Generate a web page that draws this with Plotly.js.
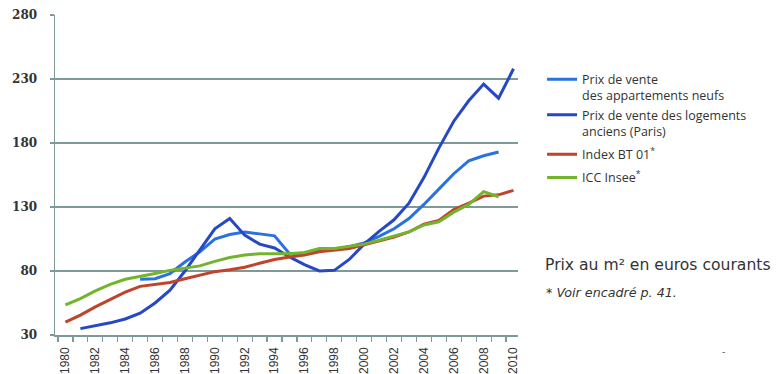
<!DOCTYPE html>
<html>
<head>
<meta charset="utf-8">
<script src="https://cdn.plot.ly/plotly-3.0.1.min.js"></script>
<style>html,body{margin:0;padding:0;background:#fff;}#chart{width:780px;height:374px;}</style>
</head>
<body>
<div id="chart"></div>
<script>
const years = [1980,1981,1982,1983,1984,1985,1986,1987,1988,1989,1990,1991,1992,1993,1994,1995,1996,1997,1998,1999,2000,2001,2002,2003,2004,2005,2006,2007,2008,2009,2010];

const neufs = [null,null,null,null,null,73.5,74,78,87,95,105,108.5,110.5,109,107.5,93.5,93.5,96,97,99,102,107,113,121,132,144,156,166,170,173,null];
const parisAnciens = [null,35,37,39.5,42.5,47,55,65,80,96,113,121,108,101,98,91,85,80,80.5,89,101,111,120,133,153,176,197,213,226,215,238];
const indexBT01 = [40,45.5,52,58,63.5,68,69.5,71,74,77,79.5,81,83,86,89,91,92.5,95,96,97.5,100.5,103.5,106.5,110.5,116.5,119.5,128,133,138.5,139.5,143];
const iccInsee = [53.5,58.5,64.5,69.5,73.5,75.5,78,80.5,82,84,87.5,90.5,92.5,93.5,93.5,93.5,94.5,97.5,97.5,99,101,104,107,110.5,116,118.5,126,132,142,138,null];

const seriesNames = ["Prix de vente<br>des appartements neufs", "Prix de vente des logements<br>anciens (Paris)", "Index BT 01<sup>*</sup>", "ICC Insee<sup>*</sup>"];
const legendGroups = ['prix', 'prix', 'bt', 'icc'];
const yTicks = [30,80,130,180,230,280];
const xTickVals = years.filter(y => y % 2 === 0);
const xTickText = xTickVals.map(String);

const gridCol = '#7f9999';
const colors = ['#2a72df', '#2748c4', '#c0432b', '#72b52d'];
const seriesData = [neufs, parisAnciens, indexBT01, iccInsee];

const traces = seriesData.map((d, i) => ({
  x: years, y: d, type: 'scatter', mode: 'lines', name: seriesNames[i],
  legendgroup: legendGroups[i],
  line: {color: colors[i], width: 3}, connectgaps: false, hoverinfo: 'skip'
}));

const layout = {
  width: 780, height: 374,
  margin: {l: 55, r: 262, t: 15, b: 39, pad: 0},
  paper_bgcolor: '#ffffff', plot_bgcolor: '#ffffff',
  showlegend: true,
  legend: {
    x: 1.052, xanchor: 'left', y: 0.845, yanchor: 'top',
    valign: 'top', bgcolor: 'rgba(0,0,0,0)', borderwidth: 0,
    font: {family: 'Open Sans, sans-serif', size: 12.5, color: '#333'},
    tracegroupgap: 4, traceorder: 'grouped'
  },
  xaxis: {
    type: 'linear', range: [1979.3, 2010.3],
    tickmode: 'array', tickvals: xTickVals, ticktext: xTickText,
    tickangle: -90, ticks: 'outside', ticklen: 6, tickcolor: 'rgba(0,0,0,0)',
    tickfont: {family: 'Liberation Sans, Arial, sans-serif', size: 12, color: '#333'},
    showline: true, linecolor: gridCol, linewidth: 1.5,
    showgrid: false, zeroline: false,
    minor: {tickmode: 'linear', tick0: 1979.5, dtick: 1, ticks: 'outside', ticklen: 5, tickcolor: gridCol, tickwidth: 1.2, showgrid: false}
  },
  yaxis: {
    range: [30, 280], tickmode: 'array', tickvals: yTicks,
    ticks: 'outside', ticklen: 4, tickcolor: gridCol, tickwidth: 1.2,
    ticklabelstandoff: 10,
    tickfont: {family: 'DejaVu Serif, serif', size: 12, color: '#333', weight: 'bold'},
    showline: true, linecolor: gridCol, linewidth: 1.5,
    showgrid: true, gridcolor: gridCol, gridwidth: 1.5, zeroline: false
  },
  annotations: [
    {xref: 'paper', yref: 'paper', x: 1.055, y: 0.22, xanchor: 'left', yanchor: 'middle', showarrow: false,
     text: 'Prix au m² en euros courants', font: {family: 'DejaVu Sans, sans-serif', size: 15.6, color: '#333'}},
    {xref: 'paper', yref: 'paper', x: 1.057, y: 0.132, xanchor: 'left', yanchor: 'middle', showarrow: false,
     text: '<i>* Voir encadré p. 41.</i>', font: {family: 'DejaVu Sans, sans-serif', size: 12.7, color: '#333'}},
    {xref: 'paper', yref: 'paper', x: 1.443, y: -0.05, xanchor: 'center', yanchor: 'middle', showarrow: false,
     text: '-', font: {family: 'Open Sans, sans-serif', size: 10, color: '#555'}}
  ]
};

Plotly.newPlot('chart', traces, layout, {displayModeBar: false, staticPlot: true});
</script>
</body>
</html>
